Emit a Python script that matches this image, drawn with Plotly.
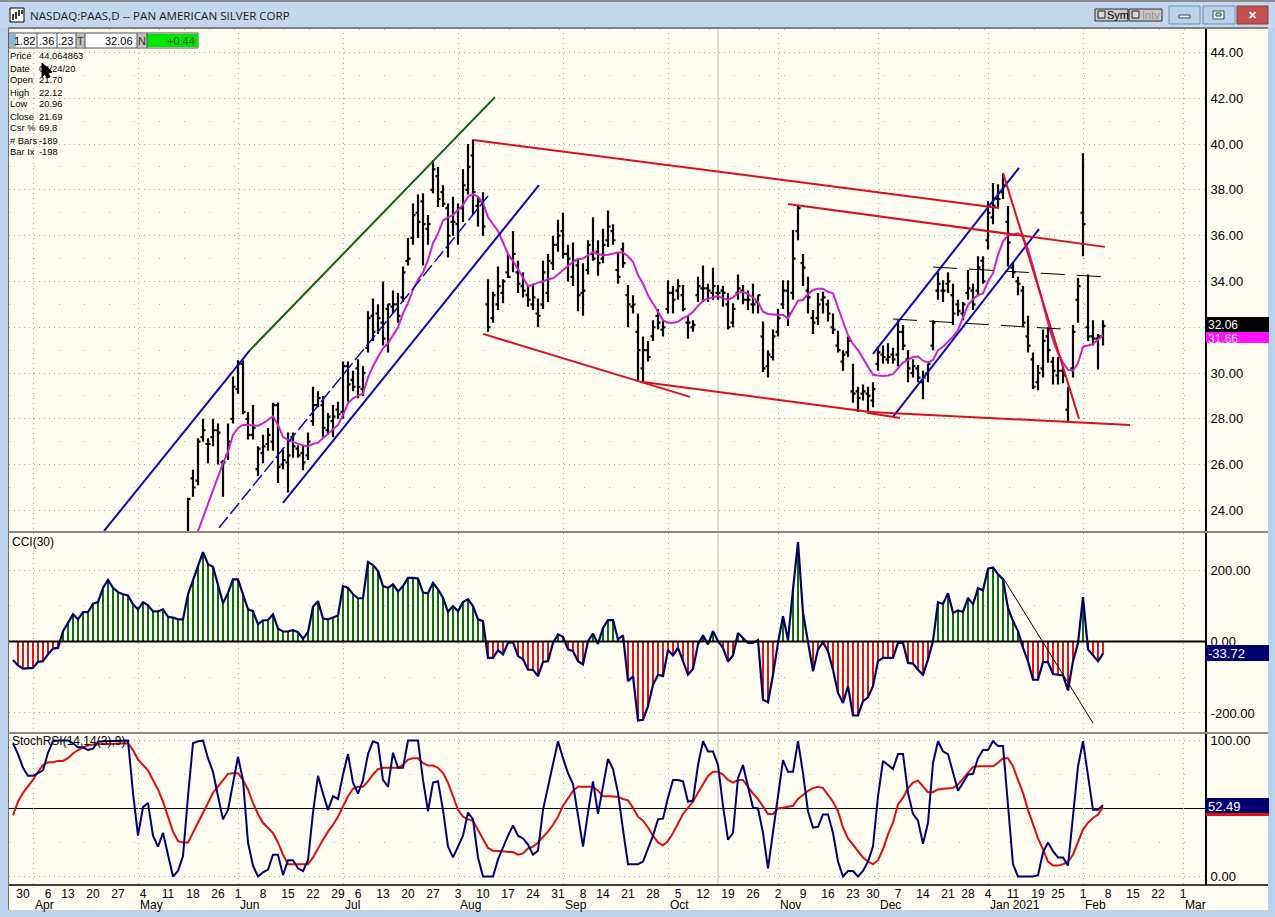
import plotly.graph_objects as go

W, H = 1275, 917
CREAM = "#fffcf2"
FRAME = "#b9d1ea"

# ---------- data ----------
first_price_bar = 35
highs = [24.55,25.77,27.15,28.0,27.15,28.0,27.8,26.2,27.8,29.85,30.56,30.56,28.3,28.6,26.8,27.3,27.6,28.7,28.7,26.65,
 27.4,27.4,26.85,26.85,27.4,29.4,29.2,29.0,28.25,28.6,28.75,30.5,30.5,30.1,30.6,30.3,32.7,33.25,33.0,34.0,
 33.0,33.6,33.5,34.65,35.9,37.4,37.8,37.85,36.9,39.3,39.0,38.2,37.4,37.7,37.4,38.9,40.0,40.2,37.7,37.9,
 34.1,33.55,34.65,34.1,35.2,36.2,34.9,34.4,33.8,33.9,33.25,34.9,35.2,36.0,36.7,37.0,35.6,35.7,35.0,34.8,
 35.8,36.8,35.8,36.3,37.1,36.5,35.25,35.7,33.85,33.4,32.6,31.6,31.4,32.3,32.8,32.3,34.05,33.8,34.1,33.85,
 32.5,32.3,34.2,34.7,33.9,34.6,33.85,33.8,33.5,33.05,34.3,33.85,33.6,33.9,33.4,32.25,31.0,31.9,32.8,34.05,
 34.05,36.25,37.3,35.2,34.2,32.75,33.5,33.55,33.2,32.6,31.85,31.0,31.6,30.4,29.4,29.5,29.4,29.6,31.15,31.2,
 31.3,31.1,32.3,32.1,31.0,30.6,30.35,30.1,30.4,32.3,34.4,34.05,34.4,33.9,33.2,33.1,34.5,33.9,35.1,35.1,
 37.5,38.3,38.25,38.7,37.3,34.85,34.2,33.8,32.5,30.9,30.35,31.9,32.0,30.7,30.7,30.3,29.4,32.1,34.15,39.6,
 34.3,32.3,31.7,32.3]
lows = [22.5,24.6,25.1,27.0,26.06,26.8,26.0,24.6,26.2,27.8,29.1,28.2,27.1,27.1,25.5,26.06,26.6,26.6,25.2,25.8,
 24.78,26.3,26.3,25.75,26.2,27.7,28.5,27.2,27.3,27.2,28.0,28.0,28.75,29.2,28.9,29.0,30.9,31.4,31.7,31.2,
 30.9,32.6,32.2,33.1,34.7,35.6,35.9,34.7,35.6,37.85,37.25,37.25,35.05,36.0,35.6,36.6,37.8,36.9,36.4,36.0,
 31.8,32.2,32.75,33.05,34.15,34.4,33.5,33.3,32.9,32.75,32.0,32.8,33.1,34.5,35.3,35.0,34.0,33.8,32.7,32.5,
 34.3,34.9,34.25,34.8,35.5,35.6,33.9,34.6,32.0,32.6,29.7,29.6,30.5,31.4,31.9,31.6,32.6,32.6,33.2,32.7,
 31.5,31.8,33.1,33.1,33.1,33.2,33.2,32.9,31.9,32.0,33.2,33.0,32.75,32.6,32.6,30.05,29.8,30.55,31.6,32.8,
 32.05,33.2,35.8,33.8,32.6,31.7,32.1,32.6,32.25,31.7,30.9,30.1,30.7,28.7,28.3,28.8,28.25,28.5,30.1,30.4,
 30.4,30.4,30.3,31.0,29.6,29.8,29.6,28.85,29.6,31.0,33.2,33.1,33.5,32.1,32.5,32.3,33.2,32.75,33.35,33.9,
 35.4,36.5,37.2,37.6,34.65,34.15,33.4,32.0,30.9,29.3,29.25,29.8,30.45,29.5,29.5,29.55,27.9,29.8,32.2,35.1,
 31.4,31.2,30.15,31.2]
opens = [23.0,25.4,25.3,27.2,26.9,27.2,27.5,26.1,26.4,28.0,29.3,30.4,28.0,27.3,25.8,26.5,26.9,27.0,28.6,26.0,
 26.1,27.2,26.7,26.5,26.4,27.9,28.6,28.6,27.5,27.9,28.4,28.3,30.3,29.7,30.2,29.3,31.1,32.5,32.6,32.2,
 32.8,32.9,33.0,33.3,34.9,35.9,37.0,37.5,36.3,38.0,38.6,37.9,37.2,36.6,36.5,37.2,38.0,39.5,37.3,37.5,
 33.0,32.4,33.0,33.5,34.4,35.0,34.4,33.8,33.4,33.0,32.6,33.0,33.5,34.8,35.6,36.2,35.2,34.2,34.7,33.5,
 34.5,35.2,35.3,35.0,35.8,36.2,34.5,35.4,33.4,32.9,31.8,30.2,31.0,31.6,32.5,31.9,32.8,33.5,33.6,33.4,
 32.2,32.0,33.4,33.7,33.7,33.5,33.5,33.6,33.0,32.2,33.5,33.6,33.2,33.0,33.1,31.6,30.3,30.7,31.8,33.0,
 33.6,33.5,36.2,34.8,33.6,32.4,32.4,33.2,33.0,32.0,31.2,30.5,30.9,29.2,29.2,29.1,29.1,28.8,30.4,30.8,
 30.6,30.8,30.8,31.8,30.6,30.0,30.2,29.6,30.0,31.2,33.6,33.6,33.9,33.4,33.0,32.6,33.5,33.6,33.6,34.9,
 35.8,36.8,37.6,37.9,36.6,34.6,34.0,33.6,31.6,30.6,29.6,30.2,31.6,30.5,29.9,30.1,28.4,30.2,33.2,37.0,
 32.0,31.6,31.5,31.6]
closes = [24.5,25.0,27.0,27.5,26.9,27.5,27.4,26.1,27.0,29.4,30.4,28.3,27.3,27.6,26.7,26.8,27.3,28.6,25.9,26.2,
 26.4,26.8,26.4,26.1,27.0,28.6,28.9,27.6,28.1,28.1,28.2,30.3,29.5,29.4,29.4,30.0,32.4,31.8,32.4,31.5,
 33.0,33.0,32.5,34.4,35.0,36.9,36.6,36.5,36.5,38.9,37.6,37.4,36.0,36.6,37.2,38.2,39.0,37.9,37.5,36.4,
 32.0,33.4,33.8,34.0,34.2,35.2,33.9,33.6,33.2,33.3,32.5,34.4,34.9,35.6,36.0,35.2,35.0,34.9,33.4,33.6,
 35.6,35.0,34.8,35.6,36.4,35.8,34.2,34.8,33.0,33.0,31.0,31.0,30.7,32.0,32.2,32.0,33.5,33.2,33.8,32.8,
 32.2,32.1,33.8,33.7,33.6,33.8,33.5,33.5,32.0,32.8,33.7,33.2,33.2,33.0,33.4,30.2,30.8,31.6,32.4,33.6,
 32.6,35.0,37.2,34.6,33.3,32.2,33.0,33.3,32.6,31.9,31.0,30.8,31.4,29.1,28.9,29.2,29.0,29.3,30.9,30.7,
 30.7,30.6,31.8,31.2,30.2,30.3,29.8,29.8,30.4,32.2,33.9,33.6,34.0,32.6,32.7,33.0,33.7,33.0,34.6,34.0,
 37.0,37.3,37.6,38.2,35.7,34.4,33.9,32.2,31.2,29.4,30.0,31.4,31.0,30.1,30.1,29.9,29.3,31.8,33.8,36.5,
 31.6,31.5,31.6,32.06]

first_ma_bar = 36
ma = [22.5,23.1,23.73,24.24,24.9,25.48,26.06,26.57,27.3,27.6,27.73,27.73,27.73,27.7,27.8,27.95,28.1,27.73,27.2,27.08,
 27.0,26.9,26.83,26.8,26.9,26.96,27.15,27.34,27.5,27.73,28.17,28.68,28.9,29.0,29.1,29.8,30.3,30.7,31.08,31.3,
 31.66,32.0,32.6,33.05,33.63,34.07,34.4,34.94,35.67,36.1,36.66,36.8,36.9,37.1,37.34,37.7,37.82,37.7,37.44,36.8,
 36.5,36.2,35.7,35.2,34.9,34.5,34.16,33.8,33.85,33.95,34.0,34.1,34.14,34.3,34.5,34.7,34.86,34.98,35.0,35.15,
 35.27,35.2,35.15,35.17,35.23,35.26,35.26,35.1,34.86,34.28,33.9,33.4,33.04,32.68,32.3,32.2,32.2,32.24,32.4,32.5,
 32.68,32.93,33.16,33.25,33.3,33.36,33.26,33.2,33.3,33.5,33.55,33.45,33.3,33.1,32.68,32.58,32.56,32.53,32.53,32.39,
 32.75,33.16,33.19,33.45,33.63,33.68,33.68,33.55,33.48,32.83,32.25,31.66,31.27,31.0,30.65,30.28,29.92,29.89,29.87,29.89,
 29.95,30.2,30.46,30.57,30.7,30.72,30.54,30.46,30.57,31.0,31.15,31.37,31.59,31.88,32.4,32.97,33.22,33.4,33.48,34.0,
 34.36,35.16,35.74,36.03,36.03,36.1,35.96,35.4,34.65,33.9,33.05,32.17,31.45,30.86,30.46,30.14,30.1,30.43,31.15,31.2,
 31.27,31.45,31.66]

cci = [-52,-67,-76,-76,-74,-57,-55,-36,-20,-18,29,52,76,62,82,82,106,110,150,172,
 150,138,132,129,104,90,110,101,84,84,90,69,67,62,62,132,169,211,250,216,
 209,160,107,136,174,174,132,90,85,48,59,60,76,36,28,28,32,26,8,26,
 97,113,64,62,67,73,155,150,132,121,121,222,214,197,155,150,160,140,155,178,
 178,176,137,135,164,146,122,83,99,85,110,118,99,62,57,-46,-46,-24,-36,-4,
 -2,-41,-50,-79,-79,-97,-57,-55,-4,20,13,-22,-27,-55,-64,1,22,-7,38,60,
 60,6,17,-111,-97,-221,-219,-181,-121,-93,-97,-24,-39,-18,-55,-93,-77,-8,17,-8,
 29,1,-18,-56,-39,24,10,-4,-4,4,-163,-170,-93,-4,71,4,146,278,80,1,
 -83,-22,-2,-27,-79,-144,-172,-125,-207,-207,-167,-156,-125,-55,-46,-46,-46,-4,-4,-60,
 -62,-79,-93,-50,1,110,105,135,80,87,83,122,104,149,143,204,207,188,174,94,
 57,29,-18,-55,-107,-107,-58,-58,-91,-93,-95,-137,-55,-4,124,-22,-39,-55,-33.72]

stoch_k = [98,90,80,74,74,76,78,91,99.5,100,100,100,98,95,95,93,94,99,99.5,99.5,
 99.5,99.5,100,100,61.5,30,51,54,30,22,32,16,0,4,15,59,98,99.5,100,87,
 77,59,42,49,70,88,71,25,8,0,3,5,16,16,1,12,12,6,4,12,
 47,74,61,49,59,57,75,90,69,61,71,90,99.5,98,71,66,91,80,80,100,
 100,100,71,48,69,70,49,22,14,22,30,47,42,14,0,0,0,12.5,22,30,
 37.5,30,28,23.5,16,19,49,66,82,99.5,87,76,68,44,22,47,70,46,66,86.5,
 79,61.5,34.5,9,9,9,11,20,30,42,42.5,58,71,71,70,55,56,82,99.5,92,
 92,82,52,27,32,72.5,82,66,50.5,50,32,6,34.5,59,85.5,77,77,99.5,76,48,
 36,36.5,45.6,45.6,32,11,0,4,4,0,4,11,22,59,85,82,79,90,90,61.5,
 46,41,24,39.5,83.5,99.5,92,90,76,63,69,75,75.5,87,93,93,99.5,96,96,53,
 9,0,0,0,0,1,17.5,25,18.6,14,14,8,42,81,99.5,74,49,49,52.49]
stoch_d = [45,55,61.5,66,71,77,82,84,84,85,85,87,90.5,93,95,96.5,97,97.5,97.5,97.5,
 97.5,97.5,98,98,93,86,82,78,71,64,55,44,33,26,25,25,32,39.5,47,54,
 61.5,66,71,75.5,76,76,71,64,54,46,39.5,36,32,25,16,9,9,9,9,9,
 14,21,27,33,38,44,52,59,64.5,66,66,70,75,79,80,80,80,80,82,86,
 87,87,83.5,81.6,81.6,80,76,69,59,49,44,42,41,34.5,27,21,19,19,18.6,18,
 18,16,17,20.6,22,25,29,33,38,44,52,58,63,66,66,66,66,63,59,59,
 59,58.6,57,56,50.5,44,41,36,30,25,23,26,32,39.5,46,50.5,55,61.5,68,74,
 77,77,75,71,69,71,71,66,61,57,51,46,46,50,50.5,51,52,57,60,63,
 65,66,65,60,55,48,36,28,23.5,18.6,14,11,9,12,20,31,39.5,53,58,65,
 69,70.5,66,62,62,64,64.5,65,65,67.6,72,76,80.6,81,81,81,81,83.6,87,87,
 81,71,61.5,49,38,28,20,11,8,8,9,11,16,26,34.5,39.5,43,45.6,51]

# drawn trend lines: bar position pairs and value pairs
blue_upper_x, blue_upper_y = [18.2, 47.4], [23.1, 31.0]
green_x, green_y = [47.4, 96.4], [31.0, 42.05]
blue_dash_x, blue_dash_y = [41.2, 95.0], [23.24, 37.73]
blue_lower_x, blue_lower_y = [54.0, 105.2], [24.33, 38.21]
blue_c_x, blue_c_y = [172.0, 201.2], [30.84, 38.96]
blue_d_x, blue_d_y = [176.0, 205.2], [28.08, 36.29]
red_top_x, red_top_y = [92.0, 197.2], [40.18, 37.21]
red_left_x, red_left_y = [94.0, 135.4], [31.71, 28.96]
red_low_x, red_low_y = [126.0, 171.4], [29.61, 28.3]
red_low2_x, red_low2_y = [170.8, 177.4], [28.26, 28.04]
red_low3_x, red_low3_y = [171.4, 223.4], [28.3, 27.73]
red_mid_x, red_mid_y = [155.0, 218.4], [37.38, 35.51]
red_steep_x, red_steep_y = [198.0, 213.2], [38.74, 28.0]
blk1_x, blk1_y = [184.0, 218.4], [34.63, 34.2]
blk2_x, blk2_y = [176.0, 210.0], [32.36, 31.92]
cci_line_x, cci_line_y = [198.0, 216.0], [178, -228]

day_pos = [2,7,11,16,21,26,31,36,41,45,50,55,60,65,69,74,79,84,89,94,99,104,109,114,118,123,128,133,138,143,148,153,158,163,168,172,177,182,187,191,195,200,205,209,214,219,224,229,234]
day_txt = ["30","6","13","20","27","4","11","18","26","1","8","15","22","29","6","13","20","27","3","10","17","24","31","8","14","21","28","5","12","19","26","2","9","16","23","30","7","14","21","28","4","11","19","25","1","8","15","22","1"]
month_pos = [4,25,45,66,89,110,131,153,173,195,214,234]
month_txt = ["Apr","May","Jun","Jul","Aug","Sep","Oct","Nov","Dec","Jan 2021","Feb","Mar"]
info_labels = ["Price","Date","Open","High","Low","Close","Csr %","# Bars","Bar Ix"]
info_values = ["44.064863","04/24/20","21.70","22.12","20.96","21.69","69.8","-189","-198"]
title = "NASDAQ:PAAS,D -- PAN AMERICAN SILVER CORP"

# ---------- helpers ----------
def px(x): return x / W
def py(y): return 1 - y / H

shapes, notes = [], []
def rect(x0, y0, x1, y1, fill, line=None, lw=1, layer="above"):
    shapes.append(dict(type="rect", xref="paper", yref="paper", x0=px(x0), x1=px(x1), y0=py(y0), y1=py(y1),
                       fillcolor=fill, line=dict(color=line or fill, width=lw if line else 0), layer=layer))
def hline(x0, x1, y, color, lw=1, layer="above"):
    shapes.append(dict(type="line", xref="paper", yref="paper", x0=px(x0), x1=px(x1), y0=py(y), y1=py(y),
                       line=dict(color=color, width=lw), layer=layer))
def vline(x, y0, y1, color, lw=1, layer="above"):
    shapes.append(dict(type="line", xref="paper", yref="paper", x0=px(x), x1=px(x), y0=py(y0), y1=py(y1),
                       line=dict(color=color, width=lw), layer=layer))
def text(x, y, s, size=12, color="#000000", font="Liberation Sans", anchor="left"):
    notes.append(dict(xref="paper", yref="paper", x=px(x), y=py(y), text=s, showarrow=False, xanchor=anchor,
                      yanchor="middle", align="left", xshift=0, borderpad=0,
                      font=dict(family=font, size=size, color=color)))
def poly(pts, fill, line=None, lw=1):
    d = "M" + " L".join(f"{px(a):.5f},{py(b):.5f}" for a, b in pts) + " Z"
    shapes.append(dict(type="path", xref="paper", yref="paper", path=d, fillcolor=fill,
                       line=dict(color=line or fill, width=lw)))

# ---------- window chrome ----------
rect(0, 0, W, 28, "#c3d8ee", layer="below")
rect(0, 0, W, 2, "#8c8c8c", layer="below")
rect(9, 28, 1268, 910, CREAM, layer="below")
vline(8.5, 28, 910, "#707070", 1, layer="below")
hline(8, 1268, 28, "#808080", 2)
hline(9, 1268, 532, "#8a8a8a", 2)
hline(9, 1268, 733, "#8a8a8a", 2)
hline(9, 1268, 885, "#000000", 1.5)
hline(8, 1268, 910.5, "#d0d0d0", 1)

# icon
rect(10, 8, 24, 22, "#ffffff", "#000000", 1)
for a, b, c in [(13, 14, 20), (16, 12, 19), (19, 10, 16), (22, 10, 14)]:
    vline(a, b, c, "#000000", 1.5)
text(29, 15.5, title, size=11.6, color="#1a1a1a", font="Open Sans")

# sym / intv buttons
rect(1095, 9, 1128, 21, "#c8c8c8", "#303030", 1)
rect(1129, 9, 1162, 21, "#c8c8c8", "#303030", 1)
rect(1098, 11, 1105, 18, "#d8d8d8", "#202020", 1)
rect(1132, 11, 1139, 18, "#d8d8d8", "#202020", 1)
text(1106, 15, "Sym", size=11)
text(1141, 15, "Intv", size=11, color="#909090")
# window buttons
rect(1169, 6, 1200, 24, "#bad2ea", "#6f8fb0", 1)
rect(1203, 6, 1235, 24, "#bad2ea", "#6f8fb0", 1)
rect(1237, 6, 1268, 24, "#c0504d", "#8c3a38", 1)
rect(1179, 15, 1190, 18, "#eef3f8", "#404a55", 1)
rect(1213, 11, 1224, 19, "#eef3f8", "#404a55", 1)
rect(1216, 13, 1221, 16, "#bad2ea", "#404a55", 1)
text(1252.5, 15, "<b>✕</b>", size=11, color="#ffffff", anchor="center")

# info strip
rect(9, 33, 198, 48, "#ffffff", "#505050", 1)
rect(10, 34, 16, 47, "#93b3d6")
rect(76, 34, 85, 47, "#c0c0c0")
rect(137, 34, 147, 47, "#c0c0c0")
rect(147, 34, 198, 47, "#00e600")
for xv in (37, 57, 76, 85, 137, 147):
    vline(xv, 33, 48, "#505050", 1)
text(35.5, 41, "1.82", size=11, anchor="right")
text(55.5, 41, ".36", size=11, anchor="right")
text(74, 41, ".23", size=11, anchor="right")
text(80.5, 41, "T", size=11, anchor="center", color="#303030")
text(134, 41, "32.06", size=11, anchor="right")
text(142, 41, "N", size=11, anchor="center", color="#303030")
text(196, 41, "+0.44", size=11, anchor="right", color="#0a5a0a")
for k, (a, b) in enumerate(zip(info_labels, info_values)):
    yy = 56 + k * 12
    text(9, yy, a, size=9.4)
    text(38, yy, b, size=9.4)
poly([(42, 63), (42, 77), (45, 74), (47, 78), (50, 77), (48, 73), (52, 72)], "#000000")

# panel labels
text(11, 542, "CCI(30)", size=12)
text(11, 741, "StochRSI(14,14(3),9)", size=12)

# cursor line, zero lines
shapes.append(dict(type="line", xref="x", yref="paper", x0=141, x1=141, y0=py(28), y1=py(885),
                   line=dict(color="#bdbdbd", width=1), layer="below"))
shapes.append(dict(type="line", xref="x2 domain", yref="y2", x0=0, x1=1, y0=0, y1=0,
                   line=dict(color="#000000", width=2), layer="above"))
shapes.append(dict(type="line", xref="x3 domain", yref="y3", x0=0, x1=1, y0=50, y1=50,
                   line=dict(color="#000000", width=1), layer="below"))

# value tags
rect(1206, 317, 1269, 332, "#000000")
text(1207, 324.5, "32.06", size=12, color="#ffffff")
rect(1206, 332, 1269, 343, "#ff10ff")
text(1207, 338.5, "31.66", size=12, color="#f5d0f5")
rect(1206, 645, 1269, 661, "#000070")
text(1207, 653, "-33.72", size=13, color="#ffffff")
rect(1206, 798, 1269, 813, "#000070")
rect(1206, 813, 1269, 816, "#e01010")
text(1207, 806, "52.49", size=13, color="#ffffff")

# month labels
for p, m in zip(month_pos, month_txt):
    notes.append(dict(xref="x3", yref="paper", x=p, y=py(905), text=m, showarrow=False, xanchor="left",
                      yanchor="middle", xshift=0, font=dict(family="Liberation Sans", size=12, color="#000000")))

# ---------- traces ----------
fig = go.Figure()
bar_x = list(range(first_price_bar, first_price_bar + len(closes)))
fig.add_trace(go.Ohlc(x=bar_x, open=opens, high=highs, low=lows, close=closes, tickwidth=0.5,
                      increasing=dict(line=dict(color="#000000", width=2.2)),
                      decreasing=dict(line=dict(color="#000000", width=2.2)), xaxis="x", yaxis="y"))
fig.add_trace(go.Scatter(x=list(range(first_ma_bar, first_ma_bar + len(ma))), y=ma, mode="lines",
                         line=dict(color="#cc22cc", width=2), xaxis="x", yaxis="y"))

def seg(xs, ys, color, width, dash=None, ax="y"):
    fig.add_trace(go.Scatter(x=xs, y=ys, mode="lines", xaxis="x" if ax == "y" else "x2", yaxis=ax,
                             line=dict(color=color, width=width, dash=dash)))

BLUE = "#0a0ab4"
RED = "#d8101c"
seg(blue_upper_x, blue_upper_y, BLUE, 2)
seg(green_x, green_y, "#0a640a", 2)
seg(blue_dash_x, blue_dash_y, BLUE, 1.5, "14px,4px")
seg(blue_lower_x, blue_lower_y, BLUE, 2)
seg(blue_c_x, blue_c_y, BLUE, 2)
seg(blue_d_x, blue_d_y, BLUE, 2)
for xs, ys in [(red_top_x, red_top_y), (red_left_x, red_left_y), (red_low_x, red_low_y),
               (red_low2_x, red_low2_y), (red_low3_x, red_low3_y), (red_mid_x, red_mid_y),
               (red_steep_x, red_steep_y)]:
    seg(xs, ys, RED, 2)
seg(blk1_x, blk1_y, "#000000", 1, "24px,12px")
seg(blk2_x, blk2_y, "#000000", 1, "24px,12px")

idx = list(range(len(cci)))
fig.add_trace(go.Bar(x=idx[1:], y=cci[1:], width=0.42, marker=dict(color=["#0c6e0c" if v >= 0 else "#e01414" for v in cci[1:]], line=dict(width=0)),
                     xaxis="x2", yaxis="y2"))
fig.add_trace(go.Scatter(x=idx, y=cci, mode="lines", line=dict(color="#000066", width=2.2), xaxis="x2", yaxis="y2"))
seg(cci_line_x, cci_line_y, "#000000", 1, None, "y2")

fig.add_trace(go.Scatter(x=list(range(len(stoch_d))), y=stoch_d, mode="lines", line=dict(color="#d81010", width=2), xaxis="x3", yaxis="y3"))
fig.add_trace(go.Scatter(x=list(range(len(stoch_k))), y=stoch_k, mode="lines", line=dict(color="#000070", width=2), xaxis="x3", yaxis="y3"))

# ---------- axes ----------
XR = [(9 - 13) / 5, (1205 - 13) / 5]
grid = dict(showgrid=True, gridcolor="#a8a8a8", gridwidth=1, griddash="1px,4px")
def xax(anchor, **kw):
    d = dict(domain=[px(9), px(1205)], range=XR, anchor=anchor, showline=False, zeroline=False, ticks="",
             rangeslider=dict(visible=False), fixedrange=True)
    d.update(kw)
    return d
def yax(rng, vals, labels, minor_vals, anchor, top, bottom):
    return dict(domain=[py(bottom), py(top)], range=rng, anchor=anchor, side="right", tickmode="array",
                tickvals=vals, ticktext=labels, showline=True, linecolor="#000000", linewidth=2, zeroline=False,
                ticks="", ticklen=0, tickfont=dict(family="Liberation Sans", size=13, color="#000000"),
                ticklabelstandoff=1, fixedrange=True, **grid,
                minor=dict(tickmode="array", tickvals=minor_vals, showgrid=True, gridcolor="#b4b4b4", griddash="1px,24px", gridwidth=1, ticks=""))

price_ticks = list(range(24, 46, 2))
fig.update_layout(
    width=W, height=H, autosize=False, margin=dict(l=0, r=0, t=0, b=0), showlegend=False,
    paper_bgcolor=FRAME, plot_bgcolor="rgba(0,0,0,0)", barmode="overlay", bargap=0,
    shapes=shapes, annotations=notes,
    xaxis=xax("y", tickmode="array", tickvals=month_pos, showticklabels=False, **grid),
    xaxis2=xax("y2", tickmode="array", tickvals=month_pos, showticklabels=False, **grid),
    xaxis3=xax("y3", tickmode="array", tickvals=day_pos, ticktext=day_txt, showgrid=False,
               tickfont=dict(family="Liberation Sans", size=12, color="#000000"), ticklabelstandoff=0,
               minor=dict(tickmode="array", tickvals=month_pos, showgrid=True, gridcolor="#a8a8a8", griddash="1px,4px", gridwidth=1, ticks="")),
    yaxis=yax([23.1, 45.07], price_ticks, [f"{v:.2f}" for v in price_ticks], [v + 1 for v in range(22, 46, 2)], "x", 28, 531),
    yaxis2=yax([-256, 303.5], [-200, 0, 200], ["-200.00", "0.00", "200.00"], [-100, 100], "x2", 533, 733),
    yaxis3=yax([-6.27, 105.53], [0, 100], ["0.00", "100.00"], [25, 75], "x3", 733, 885),
    font=dict(family="Liberation Sans"),
)
fig.write_html("out.html", config={"displayModeBar": False},
               post_script="document.body.style.margin='0';document.body.style.overflow='hidden';")
